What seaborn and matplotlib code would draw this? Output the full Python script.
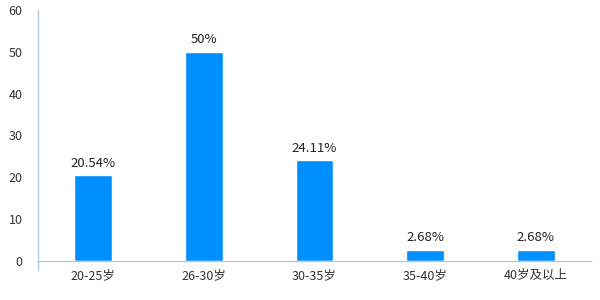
import matplotlib
matplotlib.use("Agg")
import matplotlib.pyplot as plt
import seaborn as sns
import pandas as pd
from matplotlib.lines import Line2D

categories = ["20-25岁", "26-30岁", "30-35岁", "35-40岁", "40岁及以上"]
values = [20.54, 50, 24.11, 2.68, 2.68]
labels = ["20.54%", "50%", "24.11%", "2.68%", "2.68%"]
yticks = [0, 10, 20, 30, 40, 50, 60]

sns.set_theme(style="white")
plt.rcParams['font.family'] = ['Noto Sans CJK SC', 'DejaVu Sans']

df = pd.DataFrame({"cat": categories, "val": values})
fig = plt.figure(figsize=(6, 3), dpi=100)
ax = fig.add_axes([38/600, 39/300, 553/600, 251/300])
sns.barplot(data=df, x="cat", y="val", color="#008FFF", saturation=1, width=0.34, ax=ax)

axis_col = "#B4C7DC"
ax.set_xlim(-0.5, len(categories) - 0.5)
ax.set_ylim(0, 60)
ax.set_yticks(yticks)
ax.set_yticklabels([str(t) for t in yticks], fontsize=9, color="#333333")
ax.tick_params(axis="y", length=0, pad=11)
ax.tick_params(axis="x", which="major", length=0, labelsize=9, labelcolor="#333333", pad=6)
ax.set_xticks([i - 0.5 for i in range(len(categories) + 1)], minor=True)
ax.tick_params(axis="x", which="minor", length=9, color=axis_col, width=1)
ax.set_xlabel("")
ax.set_ylabel("")
for s in ["top", "right"]:
    ax.spines[s].set_visible(False)
ax.spines["left"].set_color(axis_col)
ax.spines["bottom"].set_color(axis_col)
ax.spines["left"].set_linewidth(1)
ax.spines["bottom"].set_linewidth(1)
# extend left spine below axis
ax.add_line(Line2D([0, 0], [0, -0.036], transform=ax.transAxes, color=axis_col, lw=1, clip_on=False))

for i, (v, lab) in enumerate(zip(values, labels)):
    ax.annotate(lab, (i, v), xytext=(0, 4), textcoords="offset points",
                ha="center", va="bottom", fontsize=9.5, color="#222222")

fig.savefig("out.png", dpi=100)
